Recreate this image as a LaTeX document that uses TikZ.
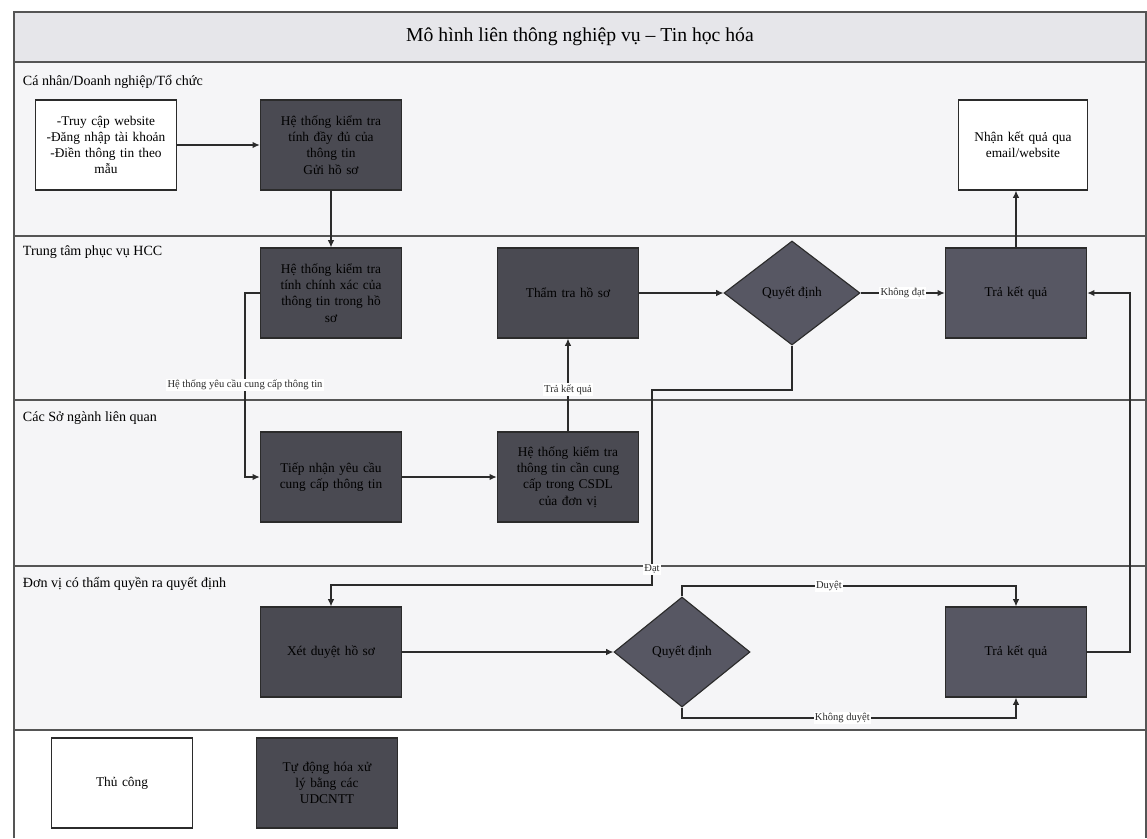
\documentclass[tikz,border=0pt]{standalone}
\usepackage{fontspec}
\setmainfont{Liberation Serif}
\usetikzlibrary{arrows.meta,positioning,shapes.geometric}
\definecolor{boxdark}{HTML}{4A4A52}
\definecolor{boxblue}{HTML}{575763}
\definecolor{lanegray}{HTML}{F5F5F7}
\definecolor{titlegray}{HTML}{E6E6EA}
\definecolor{inkgray}{HTML}{2B2B2B}
\definecolor{rulegray}{HTML}{555555}

\begin{document}
\begin{tikzpicture}[
    x=0.025cm,y=-0.025cm,
    manual/.style={draw=inkgray,thick,fill=white,text=black,minimum width=3.45cm,minimum height=2.25cm,
                   text width=3.3cm,align=center,font=\fontsize{9.5}{11.5}\selectfont},
    autobox/.style={manual,fill=boxdark},
    resultbox/.style={manual,fill=boxblue},
    decide/.style={diamond,draw=inkgray,thick,fill=boxblue,text=black,minimum width=3.4cm,minimum height=2.6cm,
                   inner sep=0pt,font=\fontsize{9.5}{11.5}\selectfont},
    flow/.style={-{Latex[length=1.8mm,width=1.6mm]},thick,inkgray},
    tag/.style={font=\fontsize{7.5}{9}\selectfont,fill=white,inner sep=1pt},
    lanename/.style={anchor=west,font=\fontsize{10}{12}\selectfont},
    lane/.style={draw=rulegray,line width=1.1pt}
  ]
    \useasboundingbox (0,0) rectangle (1147,838);
    % swimlanes
    \fill[titlegray] (14,12) rectangle (1146,62);
    \fill[lanegray] (14,62) rectangle (1146,730);
    \fill[white] (14,730) rectangle (1146,838);
    \draw[lane] (14,838) -- (14,12) -- (1146,12) -- (1146,838);
    \foreach \y in {62,236,400,566,730}
      \draw[lane] (14,\y) -- (1146,\y);

    \node[font=\fontsize{14}{16}\selectfont] (title) at (580,37) {Mô hình liên thông nghiệp vụ – Tin học hóa};
    \node[lanename] (laneA) at (18,82)  {Cá nhân/Doanh nghiệp/Tổ chức};
    \node[lanename] (laneB) at (18,252) {Trung tâm phục vụ HCC};
    \node[lanename] (laneC) at (18,418) {Các Sở ngành liên quan};
    \node[lanename] (laneD) at (18,584) {Đơn vị có thẩm quyền ra quyết định};

    % lane 1
    \node[manual] (entry) at (106,145) {-Truy cập website\\-Đăng nhập tài khoản\\-Điền thông tin theo\\mẫu};
    \node[autobox] (fullcheck) at (331,145) {Hệ thống kiểm tra\\tính đầy đủ của\\thông tin\\Gửi hồ sơ};
    \node[manual,minimum width=3.2cm,text width=3cm] (notify) at (1023,145) {Nhận kết quả qua\\email/website};

    % lane 2
    \node[autobox] (exactcheck) at (331,293) {Hệ thống kiểm tra\\tính chính xác của\\thông tin trong hồ\\sơ};
    \node[autobox] (verify) at (568,293) {Thẩm tra hồ sơ};
    \node[decide] (decideA) at (792,293) {Quyết định};
    \node[resultbox] (returnA) at (1016,293) {Trả kết quả};

    % lane 3
    \node[autobox] (receive) at (331,477) {Tiếp nhận yêu cầu\\cung cấp thông tin};
    \node[autobox] (lookup) at (568,477) {Hệ thống kiểm tra\\thông tin cần cung\\cấp trong CSDL\\của đơn vị};

    % lane 4
    \node[autobox] (approve) at (331,652) {Xét duyệt hồ sơ};
    \node[decide,minimum height=2.75cm] (decideB) at (682,652) {Quyết định};
    \node[resultbox] (returnB) at (1016,652) {Trả kết quả};

    % legend
    \node[manual] (legendManual) at (122,783) {Thủ công};
    \node[autobox] (legendAuto) at (327,783) {Tự động hóa xử\\lý bằng các\\UDCNTT};

    % helper points
    \coordinate (reqx) at (245,0);
    \coordinate (turnA) at (652,390);
    \coordinate (turnB) at (652,585);
    \coordinate (topy) at (0,586);
    \coordinate (boty) at (0,718);
    \coordinate (rightx) at (1130,0);

    % connectors
    \draw[flow] (entry) -- (fullcheck);
    \draw[flow] (fullcheck) -- (exactcheck);
    \draw[flow] (exactcheck.west) -- (exactcheck.west -| reqx)
      -- node[tag]{Hệ thống yêu cầu cung cấp thông tin} (receive.west -| reqx) -- (receive.west);
    \draw[flow] (receive) -- (lookup);
    \draw[flow] (lookup) -- node[tag,pos=.45]{Trả kết quả} (verify);
    \draw[flow] (verify) -- (decideA);
    \draw[flow] (decideA) -- node[tag]{Không đạt} (returnA);
    \draw[flow] (returnA.north) -- (returnA.north |- notify.south);
    \draw[flow] (decideA.south) |- (turnA) -- node[tag,pos=.92]{Đạt} (turnB) -| (approve.north);
    \draw[flow] (approve) -- (decideB);
    \draw[flow] (decideB.north) |- node[tag,pos=.72]{Duyệt} (topy -| returnB) -- (returnB.north);
    \draw[flow] (decideB.south) |- node[tag,pos=.74]{Không duyệt} (boty -| returnB) -- (returnB.south);
    \draw[flow] (returnB.east) -- (returnB.east -| rightx) |- (returnA.east);
  \end{tikzpicture}
\end{document}
